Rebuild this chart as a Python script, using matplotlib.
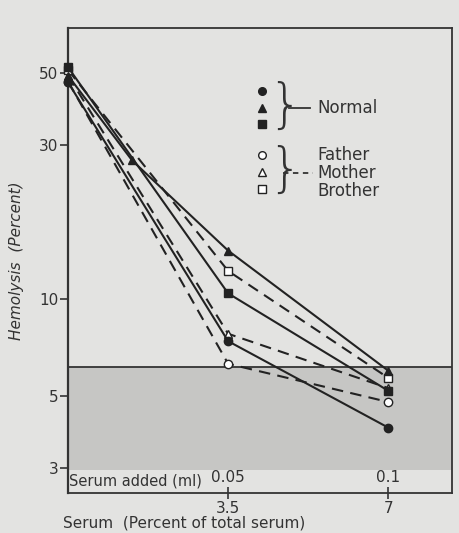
import numpy as np
import matplotlib.pyplot as plt
from matplotlib.ticker import FixedLocator, NullLocator

# serum (percent of total serum) and hemolysis (percent)
x_std = [0, 3.5, 7]
x_tri = [0, 1.4, 3.5, 7]
normal_circle = [46.7, 7.4, 4.0]
normal_triangle = [49, 26.8, 14.1, 6.0]
normal_square = [52, 10.4, 5.2]
father = [47, 6.3, 4.8]
mother = [49, 7.8, 5.3]
brother = [51, 12.2, 5.7]

yticks = [3, 5, 10, 30, 50]
xticks = [3.5, 7]
xtick_labels = ['3.5', '7']
ml_labels = ['0.05', '0.1']

bg = '#e3e3e1'
fig = plt.figure(figsize=(4.6, 5.33), dpi=100, facecolor=bg)
ax = fig.add_axes([0.148, 0.075, 0.835, 0.8725], facecolor=bg)

ax.set_yscale('log')
ax.set_ylim(2.51, 68.8)
ax.set_xlim(0, 8.4)

# shaded zone
ax.axhspan(2.96, 6.14, color='#c6c6c4', lw=0, zorder=0)
ax.axhline(6.14, color='#333333', lw=1.3, zorder=1)

lw = 1.5
dash = (0, (5.5, 3.5))
mk = dict(color='#222222', lw=lw, clip_on=False, zorder=3)

ax.plot(x_std, father, ls=dash, marker='o', mfc='white', ms=6, **mk)
ax.plot(x_std, mother, ls=dash, marker='^', mfc='white', ms=6, **mk)
ax.plot(x_std, brother, ls=dash, marker='s', mfc='white', ms=6, **mk)
ax.plot(x_std, normal_circle, ls='-', marker='o', ms=6, **mk)
ax.plot(x_tri, normal_triangle, ls='-', marker='^', ms=6, **mk)
ax.plot(x_std, normal_square, ls='-', marker='s', ms=6, **mk)

# axes styling
for s in ax.spines.values():
    s.set_color('#333333')
    s.set_linewidth(1.3)
ax.spines['left'].set_linewidth(1.6)

ax.yaxis.set_major_locator(FixedLocator(yticks))
ax.yaxis.set_minor_locator(NullLocator())
ax.set_yticklabels([str(t) for t in yticks])
ax.tick_params(axis='y', direction='out', length=6, width=1.2, labelsize=11,
               colors='#333333', pad=1)
ax.set_xticks(xticks)
ax.set_xticklabels(xtick_labels)
ax.tick_params(axis='x', direction='inout', length=9, width=1.2, labelsize=11,
               colors='#333333', pad=1)

for xv, lab in zip(xticks, ml_labels):
    ax.text(xv, 2.66, lab, ha='center', va='bottom', fontsize=11, color='#333333')
ax.text(0.003, 0.01, 'Serum added (ml)', transform=ax.transAxes, ha='left',
        va='bottom', fontsize=10.5, color='#333333')

fig.text(0.137, 0.005, 'Serum  (Percent of total serum)', ha='left', va='bottom',
         fontsize=11, color='#333333')
fig.text(0.035, 0.51, 'Hemolysis  (Percent)', rotation=90, ha='center',
         va='center', fontsize=11, style='italic', color='#333333')

# legend drawn by hand
def ax_xy(px, py):
    return (px - 68) / 384, (493 - py) / 465

for py, m, fc in [(91, 'o', '#222222'), (108, '^', '#222222'), (124, 's', '#222222'),
                  (155, 'o', 'white'), (172, '^', 'white'), (189, 's', 'white')]:
    xx, yy = ax_xy(262, py)
    ax.plot([xx], [yy], marker=m, ms=5.5, mfc=fc, mec='#222222', mew=1,
            transform=ax.transAxes, clip_on=False)

for py in (107, 171):
    xx, yy = ax_xy(268, py)
    ax.text(xx, yy, '}', transform=ax.transAxes, ha='left', va='center',
            fontsize=38, color='#333333', fontweight='light')

x0, y0 = ax_xy(289, 108)
x1, _ = ax_xy(310, 108)
ax.plot([x0, x1], [y0, y0], color='#333333', lw=1.3, transform=ax.transAxes)
x0, y0 = ax_xy(283, 173)
x1, _ = ax_xy(313, 173)
ax.plot([x0, x1], [y0, y0], color='#333333', lw=1.3, ls=(0, (3, 2.5)),
        transform=ax.transAxes)

for py, lab in [(108, 'Normal'), (155, 'Father'), (173, 'Mother'), (191, 'Brother')]:
    xx, yy = ax_xy(317, py)
    ax.text(xx, yy, lab, transform=ax.transAxes, ha='left', va='center',
            fontsize=12, color='#333333')

plt.savefig('out.png', dpi=100, facecolor=bg)
